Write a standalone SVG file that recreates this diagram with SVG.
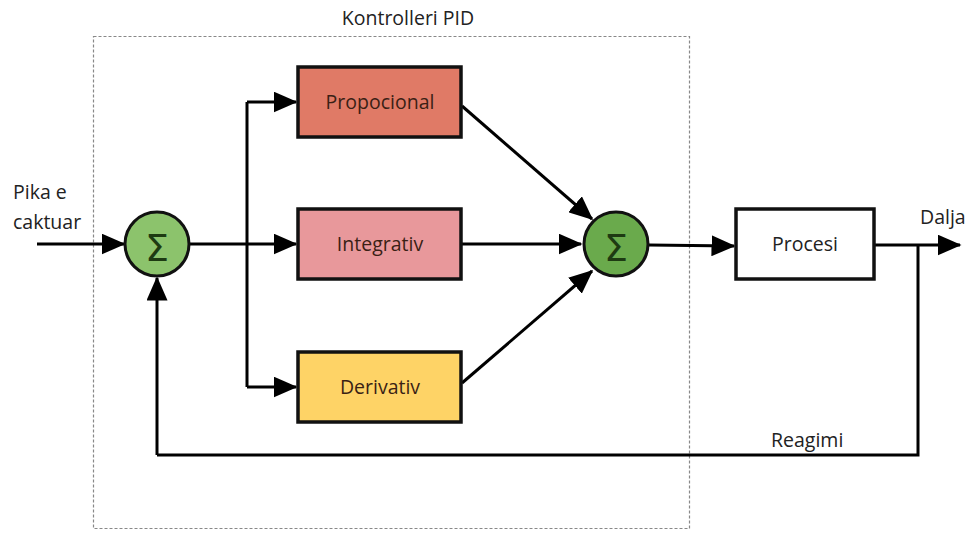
<svg xmlns="http://www.w3.org/2000/svg" width="971" height="534" viewBox="0 0 971 534">
<defs>
<marker id="ah" markerWidth="8" markerHeight="7" refX="7.5" refY="3.5" orient="auto" markerUnits="strokeWidth">
<path d="M0,0 L8,3.5 L0,7 Z" fill="#000"/>
</marker>
<style>
text{font-family:"Open Sans","Noto Sans","Liberation Sans",sans-serif;font-size:19.5px;fill:#222}
.box{stroke:#111;stroke-width:3.5}
.lbl{text-anchor:middle;fill:#3a1f15}
.c{stroke:#000;stroke-width:3;fill:none}
.a{marker-end:url(#ah)}
.sum{stroke:#111;stroke-width:3}
.sig{font-family:"DejaVu Sans",sans-serif;font-size:38px;text-anchor:middle;fill:#1e3a12}
</style>
</defs>
<rect width="971" height="534" fill="#fff"/>
<g id="pid-frame">
<rect x="93.5" y="36.5" width="596" height="492" fill="none" stroke="#888" stroke-width="1.2" stroke-dasharray="3,2"/>
<text x="408" y="25" text-anchor="middle">Kontrolleri PID</text>
</g>
<g id="connectors">
<path class="c a" d="M37,244 L124,244"/>
<path class="c" d="M190,244 L247,244"/>
<path class="c a" d="M247,244 L296,244"/>
<path class="c" d="M247,102 L247,387"/>
<path class="c a" d="M247,102 L296,102"/>
<path class="c a" d="M247,387 L296,387"/>
<path class="c a" d="M462,106 L592,219"/>
<path class="c a" d="M462,244 L581,244"/>
<path class="c a" d="M462,383 L592,271"/>
<path class="c a" d="M649,245 L734,246"/>
<path class="c a" d="M875,245 L960,245"/>
<path class="c" d="M918,245 L918,455 L157,455"/>
<path class="c a" d="M157,455 L157,278"/>
</g>
<g id="sum1">
<circle class="sum" cx="157" cy="244" r="32" fill="#8cc36c"/>
<text class="sig" x="157" y="261">Σ</text>
</g>
<g id="propocional">
<rect class="box" x="298" y="67" width="163" height="70" fill="#e07a66"/>
<text class="lbl" x="380" y="109">Propocional</text>
</g>
<g id="integrativ">
<rect class="box" x="298" y="209" width="163" height="70" fill="#e8989b"/>
<text class="lbl" x="380" y="251">Integrativ</text>
</g>
<g id="derivativ">
<rect class="box" x="298" y="352" width="163" height="70" fill="#fed366"/>
<text class="lbl" x="380" y="394">Derivativ</text>
</g>
<g id="sum2">
<circle class="sum" cx="616" cy="244" r="32" fill="#6aaa4c"/>
<text class="sig" x="616" y="261">Σ</text>
</g>
<g id="procesi">
<rect class="box" x="736" y="209" width="138" height="70" fill="#fff"/>
<text class="lbl" x="805" y="251" style="fill:#222">Procesi</text>
</g>
<g id="labels">
<text x="13" y="199">Pika e</text>
<text x="13" y="229">caktuar</text>
<text x="920" y="224">Dalja</text>
<text x="771" y="447">Reagimi</text>
</g>
</svg>
